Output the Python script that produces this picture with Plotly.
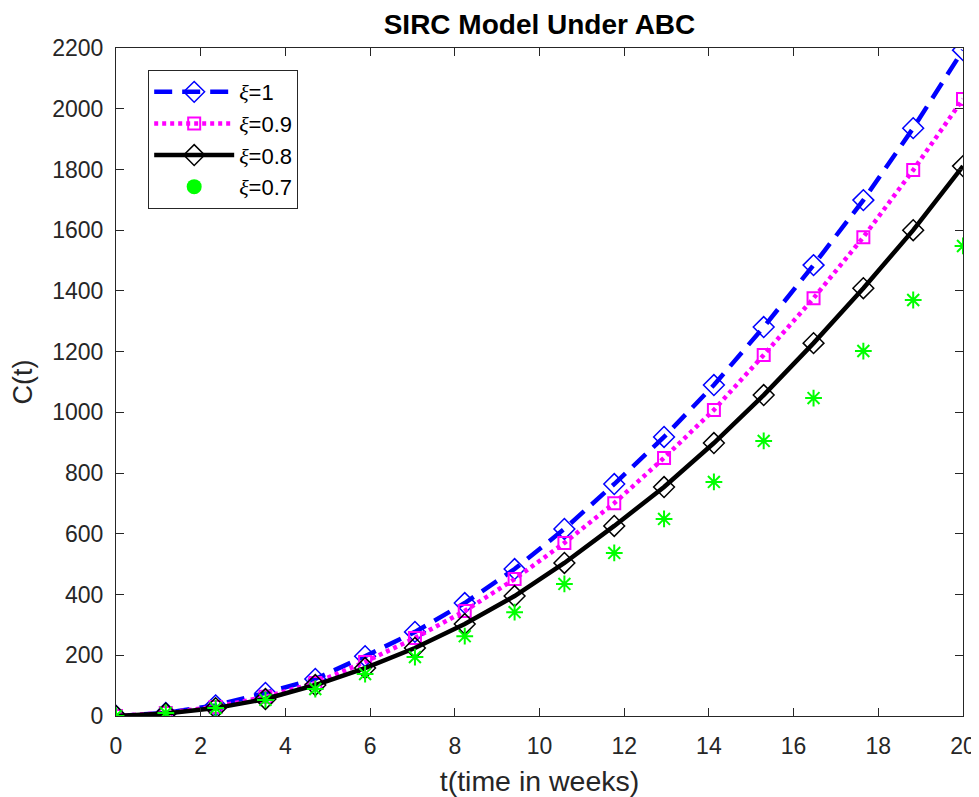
import plotly.graph_objects as go

t = [0, 1.176, 2.353, 3.529, 4.706, 5.882, 7.059, 8.235, 9.412, 10.588,
     11.765, 12.941, 14.118, 15.294, 16.471, 17.647, 18.824, 20]

c_xi_1 = [0, 10, 35, 76, 122, 197, 277, 372, 484, 616,
          764, 919, 1090, 1281, 1485, 1699, 1936, 2193]
c_xi_09 = [0, 10, 30, 63, 109, 178, 257, 346, 451, 570,
           701, 850, 1008, 1189, 1376, 1577, 1798, 2032]
c_xi_08 = [0, 8, 26, 56, 102, 158, 224, 303, 395, 504,
           626, 754, 899, 1057, 1228, 1409, 1600, 1811]
c_xi_07 = [0, 10, 26, 53, 89, 138, 194, 263, 342, 435,
           537, 649, 771, 906, 1047, 1202, 1370, 1548]

x_ticks = list(range(0, 21, 2))
y_ticks = list(range(0, 2201, 200))

FONT = "Liberation Sans, Arial, Helvetica, sans-serif"
AX = "#262626"
XI = "<span style=\"font-family:'Liberation Serif';font-style:italic\">ξ</span>"

fig = go.Figure()
fig.add_trace(go.Scatter(
    x=t, y=c_xi_1, mode="lines+markers", name=XI + "=1",
    line=dict(color="#0000ff", width=4.5, dash="18px,10px"),
    marker=dict(symbol="diamond-open", size=16, color="#0000ff", line=dict(width=1.5))))
fig.add_trace(go.Scatter(
    x=t, y=c_xi_09, mode="lines+markers", name=XI + "=0.9",
    line=dict(color="#ff00ff", width=4.5, dash="4px,4px"),
    marker=dict(symbol="square-open", size=12, color="#ff00ff", line=dict(width=2))))
fig.add_trace(go.Scatter(
    x=t, y=c_xi_08, mode="lines+markers", name=XI + "=0.8",
    line=dict(color="#000000", width=4.5),
    marker=dict(symbol="diamond-open", size=16, color="#000000", line=dict(width=1.5))))
fig.add_trace(go.Scatter(
    x=t, y=c_xi_07, mode="markers", name=XI + "=0.7", showlegend=False,
    marker=dict(symbol="asterisk-open", size=14, color="#00ff00", line=dict(width=2, color="#00ff00"))))
# legend entry for the ξ=0.7 series (MATLAB shows a filled dot in the legend)
fig.add_trace(go.Scatter(
    x=[None], y=[None], mode="markers", name=XI + "=0.7",
    marker=dict(symbol="circle", size=15, color="#00ff00")))

fig.update_layout(
    width=971, height=789,
    margin=dict(l=108, r=16, t=40, b=81),
    paper_bgcolor="white", plot_bgcolor="white",
    font=dict(family=FONT, size=23, color=AX),
    title=dict(text="<b>SIRC Model Under ABC</b>", x=0.5, xanchor="center",
               xref="paper", y=0.979, yanchor="middle",
               font=dict(family=FONT, size=28, color="black")),
    showlegend=True,
    legend=dict(x=0.038, y=0.967, xanchor="left", yanchor="top",
                bgcolor="white", bordercolor=AX, borderwidth=1,
                font=dict(family=FONT, size=22, color="black"),
                tracegroupgap=0, itemwidth=80),
)
fig.update_xaxes(
    range=[0, 20], tickvals=x_ticks, ticktext=[str(v) for v in x_ticks],
    ticks="inside", ticklen=8, tickcolor=AX, showline=True, linecolor=AX,
    linewidth=1, mirror="ticks", showgrid=False, zeroline=False,
    ticklabelstandoff=9, automargin=False,
    title=dict(text="t(time in weeks)", font=dict(size=28.5, color=AX), standoff=16),
    tickfont=dict(size=23, color=AX))
fig.update_yaxes(
    range=[0, 2200], tickvals=y_ticks, ticktext=[str(v) for v in y_ticks],
    ticks="inside", ticklen=8, tickcolor=AX, showline=True, linecolor=AX,
    linewidth=1, mirror="ticks", showgrid=False, zeroline=False,
    ticklabelstandoff=7, automargin=False,
    title=dict(text="C(t)", font=dict(size=27, color=AX), standoff=14),
    tickfont=dict(size=23, color=AX))

fig.write_html("out.html")
